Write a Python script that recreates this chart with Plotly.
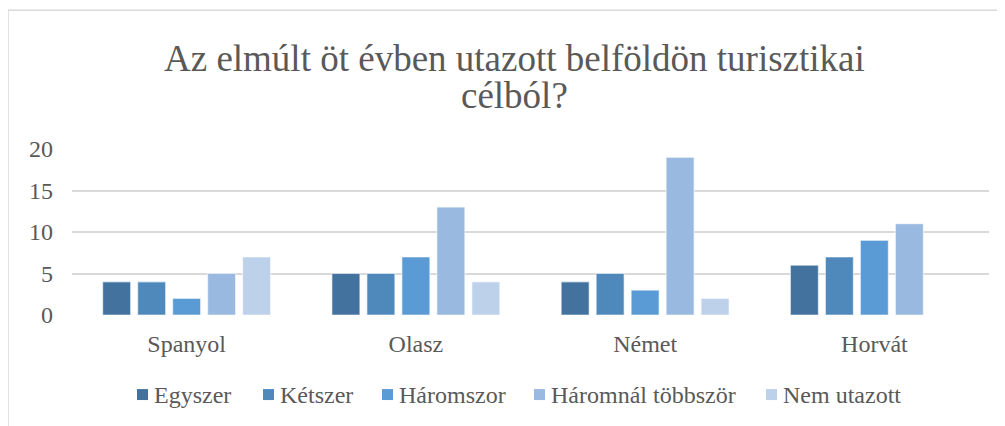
import plotly.graph_objects as go

categories = ["Spanyol", "Olasz", "Német", "Horvát"]
series_names = ["Egyszer", "Kétszer", "Háromszor", "Háromnál többször", "Nem utazott"]
egyszer = [4, 5, 4, 6]
ketszer = [4, 5, 5, 7]
haromszor = [2, 7, 3, 9]
haromnal_tobbszor = [5, 13, 19, 11]
nem_utazott = [7, 4, 2, 0]
series_values = [egyszer, ketszer, haromszor, haromnal_tobbszor, nem_utazott]
colors = ["#43729E", "#4F89BC", "#5B9BD5", "#9AB9E0", "#BDD1EA"]
y_ticks = [0, 5, 10, 15, 20]
title_lines = ["Az elmúlt öt évben utazott belföldön turisztikai", "célból?"]

FONT = "Liberation Serif, Times New Roman, Tinos, DejaVu Serif, serif"
TXT = "#595959"

fig = go.Figure()
for name, vals, col in zip(series_names, series_values, colors):
    fig.add_trace(go.Bar(
        x=categories, y=vals, name=name, showlegend=False,
        marker=dict(color=col, line=dict(color="rgba(255,255,255,0.55)", width=1.2)),
    ))

OFF = 8  # page offset of the figure in the screenshot
W, H = 1005, 426
L = 72 - OFF
T = 149 - OFF
R = W - (989 - OFF)
B = H - (315.3 - OFF)
pw = W - L - R
ph = H - T - B

def px_x(p):
    return (p - OFF - L) / pw

def px_y(p):
    return (H - B - (p - OFF)) / ph

fig.update_layout(
    width=W, height=H,
    margin=dict(l=L, r=R, t=T, b=B, pad=0, autoexpand=False),
    paper_bgcolor="white", plot_bgcolor="white",
    barmode="group", bargap=0.237, bargroupgap=0.2,
    font=dict(family=FONT, size=24, color=TXT),
    showlegend=False,
    xaxis=dict(showgrid=False, showline=False, ticks="", zeroline=False,
               automargin=False,
               tickfont=dict(family=FONT, size=24, color=TXT),
               ticklabelstandoff=12),
    yaxis=dict(range=[0, 20], tickvals=y_ticks, showgrid=True,
               gridcolor="#D9D9D9", gridwidth=1.5, zeroline=False,
               showline=False, ticks="", automargin=False,
               tickfont=dict(family=FONT, size=24, color=TXT),
               ticklabelstandoff=18),
)

# chart border
fig.add_shape(type="rect", xref="paper", yref="paper",
              x0=px_x(8), x1=px_x(1030), y0=px_y(450), y1=px_y(10),
              line=dict(color="#D9D9D9", width=1.5), fillcolor="rgba(0,0,0,0)",
              layer="below")

# title (two lines)
fig.add_annotation(text=title_lines[0], xref="paper", yref="paper",
                   x=px_x(514), y=px_y(58), xanchor="center", yanchor="middle",
                   showarrow=False, font=dict(family=FONT, size=37, color=TXT))
fig.add_annotation(text=title_lines[1], xref="paper", yref="paper",
                   x=px_x(514), y=px_y(95), xanchor="center", yanchor="middle",
                   showarrow=False, font=dict(family=FONT, size=37, color=TXT))

# legend (manual)
legend_sq_left = [137, 263, 382, 534, 766]
legend_y = 395
sq = 11
for name, col, x0 in zip(series_names, colors, legend_sq_left):
    fig.add_shape(type="rect", xref="paper", yref="paper",
                  x0=px_x(x0), x1=px_x(x0 + sq),
                  y0=px_y(legend_y + sq / 2), y1=px_y(legend_y - sq / 2),
                  line=dict(width=0), fillcolor=col)
    fig.add_annotation(text=name, xref="paper", yref="paper",
                       x=px_x(x0 + sq + 4), y=px_y(legend_y), xanchor="left",
                       yanchor="middle", showarrow=False,
                       font=dict(family=FONT, size=24, color=TXT))

fig.write_html("out.html")
